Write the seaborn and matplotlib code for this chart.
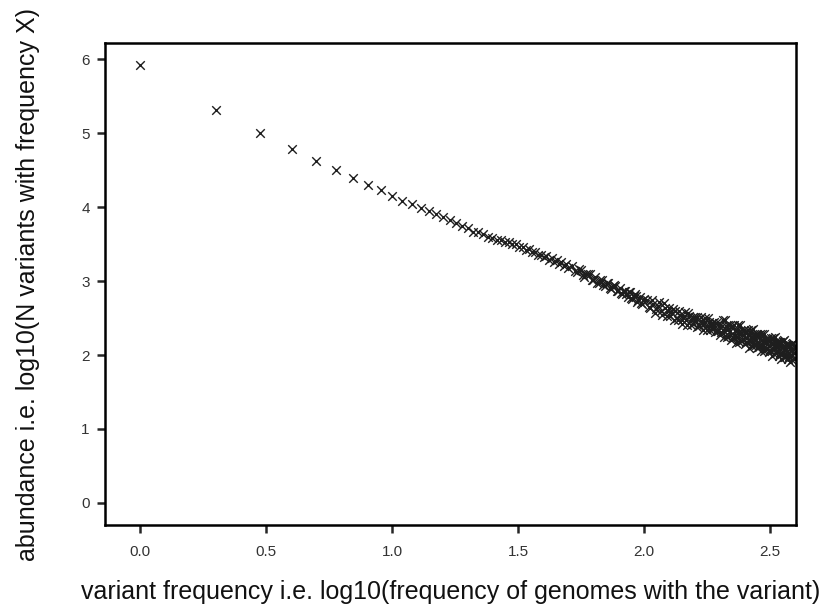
import numpy as np
import pandas as pd
import matplotlib
matplotlib.use("Agg")
import matplotlib.pyplot as plt
import seaborn as sns

# number of genomes carrying a variant (x axis is log10 of this)
freq_low = list(range(1, 51))
freq_mid = list(range(52, 101, 2))
freq_mid_odd = list(range(53, 100, 2))
freq_high = list(range(103, 401, 3))
freq_high_b = list(range(105, 400, 3))

# log10(number of variants seen at that frequency)
abund_low = [5.92, 5.31, 5.00, 4.79, 4.63, 4.50, 4.39, 4.30, 4.23, 4.15,
             4.09, 4.04, 3.99, 3.95, 3.91, 3.87, 3.83, 3.79, 3.75, 3.72,
             3.67, 3.66, 3.64, 3.60, 3.59, 3.56, 3.56, 3.53, 3.53, 3.50,
             3.50, 3.46, 3.46, 3.42, 3.43, 3.39, 3.40, 3.35, 3.36, 3.32,
             3.34, 3.29, 3.31, 3.26, 3.28, 3.23, 3.26, 3.21, 3.23, 3.18]
abund_mid = [3.20, 3.12, 3.15, 3.06, 3.10, 3.01, 3.05, 2.97, 3.01, 2.93,
             2.97, 2.90, 2.95, 2.86, 2.91, 2.82, 2.87, 2.79, 2.85, 2.76,
             2.82, 2.72, 2.79, 2.69, 2.76]
abund_mid_odd = [3.14, 3.17, 3.08, 3.09, 3.09, 3.02, 2.98, 3.01, 2.95, 2.98,
                 2.91, 2.93, 2.93, 2.87, 2.84, 2.87, 2.82, 2.85, 2.77, 2.80,
                 2.80, 2.75, 2.71, 2.75]
abund_high = [2.75, 2.63, 2.69, 2.62, 2.72, 2.54, 2.64, 2.59, 2.53, 2.62,
              2.60, 2.47, 2.54, 2.48, 2.58, 2.41, 2.53, 2.48, 2.42, 2.52,
              2.51, 2.39, 2.46, 2.40, 2.50, 2.34, 2.45, 2.40, 2.35, 2.45,
              2.43, 2.32, 2.39, 2.31, 2.47, 2.24, 2.39, 2.34, 2.26, 2.40,
              2.39, 2.23, 2.33, 2.25, 2.40, 2.17, 2.33, 2.27, 2.20, 2.34,
              2.32, 2.17, 2.27, 2.19, 2.34, 2.12, 2.27, 2.21, 2.14, 2.28,
              2.27, 2.11, 2.22, 2.13, 2.28, 2.06, 2.21, 2.16, 2.08, 2.23,
              2.21, 2.06, 2.16, 2.08, 2.23, 2.01, 2.17, 2.11, 2.04, 2.18,
              2.17, 2.01, 2.12, 2.03, 2.19, 1.97, 2.12, 2.07, 1.99, 2.14,
              2.13, 1.97, 2.08, 1.99, 2.15, 1.93, 2.08, 2.03, 1.96, 2.10]
abund_high_b = [2.65, 2.74, 2.57, 2.67, 2.60, 2.70, 2.53, 2.63, 2.57, 2.48,
                2.50, 2.59, 2.42, 2.53, 2.47, 2.57, 2.41, 2.52, 2.47, 2.38,
                2.41, 2.51, 2.34, 2.45, 2.39, 2.50, 2.34, 2.44, 2.40, 2.31,
                2.33, 2.44, 2.27, 2.39, 2.32, 2.47, 2.25, 2.40, 2.33, 2.21,
                2.25, 2.40, 2.16, 2.33, 2.25, 2.40, 2.19, 2.33, 2.27, 2.15,
                2.18, 2.34, 2.10, 2.27, 2.19, 2.35, 2.13, 2.27, 2.21, 2.09,
                2.13, 2.28, 2.05, 2.21, 2.13, 2.29, 2.07, 2.22, 2.15, 2.04,
                2.07, 2.23, 1.99, 2.16, 2.08, 2.24, 2.03, 2.17, 2.11, 1.99,
                2.03, 2.18, 1.95, 2.11, 2.04, 2.20, 1.98, 2.13, 2.06, 1.95,
                1.99, 2.14, 1.91, 2.07, 2.00, 2.16, 1.94, 2.09, 2.03]

freqs = freq_low + freq_mid + freq_mid_odd + freq_high + freq_high_b
abund = abund_low + abund_mid + abund_mid_odd + abund_high + abund_high_b
df = pd.DataFrame({"freq": np.log10(freqs), "abundance": abund})

sns.set_style("ticks")
plt.rcParams["font.family"] = ["Liberation Sans", "DejaVu Sans"]

fig = plt.figure(figsize=(8.21, 6.07), dpi=100)
ax = fig.add_axes([0.128, 0.135, 0.8415, 0.794])

sns.scatterplot(data=df, x="freq", y="abundance", marker="x", s=38,
                color="#1e1e1e", linewidth=1.0, ax=ax)

ax.set_xlim(-0.139, 2.603)
ax.set_ylim(-0.30, 6.22)
ax.set_xticks([0.0, 0.5, 1.0, 1.5, 2.0, 2.5])
ax.set_xticklabels(["0.0", "0.5", "1.0", "1.5", "2.0", "2.5"])
ax.set_yticks(range(0, 7))

for side in ["left", "right", "top", "bottom"]:
    ax.spines[side].set_visible(True)
    ax.spines[side].set_linewidth(1.8)
    ax.spines[side].set_color("black")

ax.tick_params(direction="out", length=6, width=1.8, labelsize=11,
               labelcolor="#333333", top=False, right=False)
ax.tick_params(axis="x", pad=8.5)
ax.tick_params(axis="y", pad=5)

ax.set_xlabel("variant frequency i.e. log10(frequency of genomes with the variant)",
              fontsize=18, color="#111111", labelpad=15)
ax.set_ylabel("abundance i.e. log10(N variants with frequency X)",
              fontsize=18, color="#111111", labelpad=30)

fig.savefig("out.png", dpi=100)
